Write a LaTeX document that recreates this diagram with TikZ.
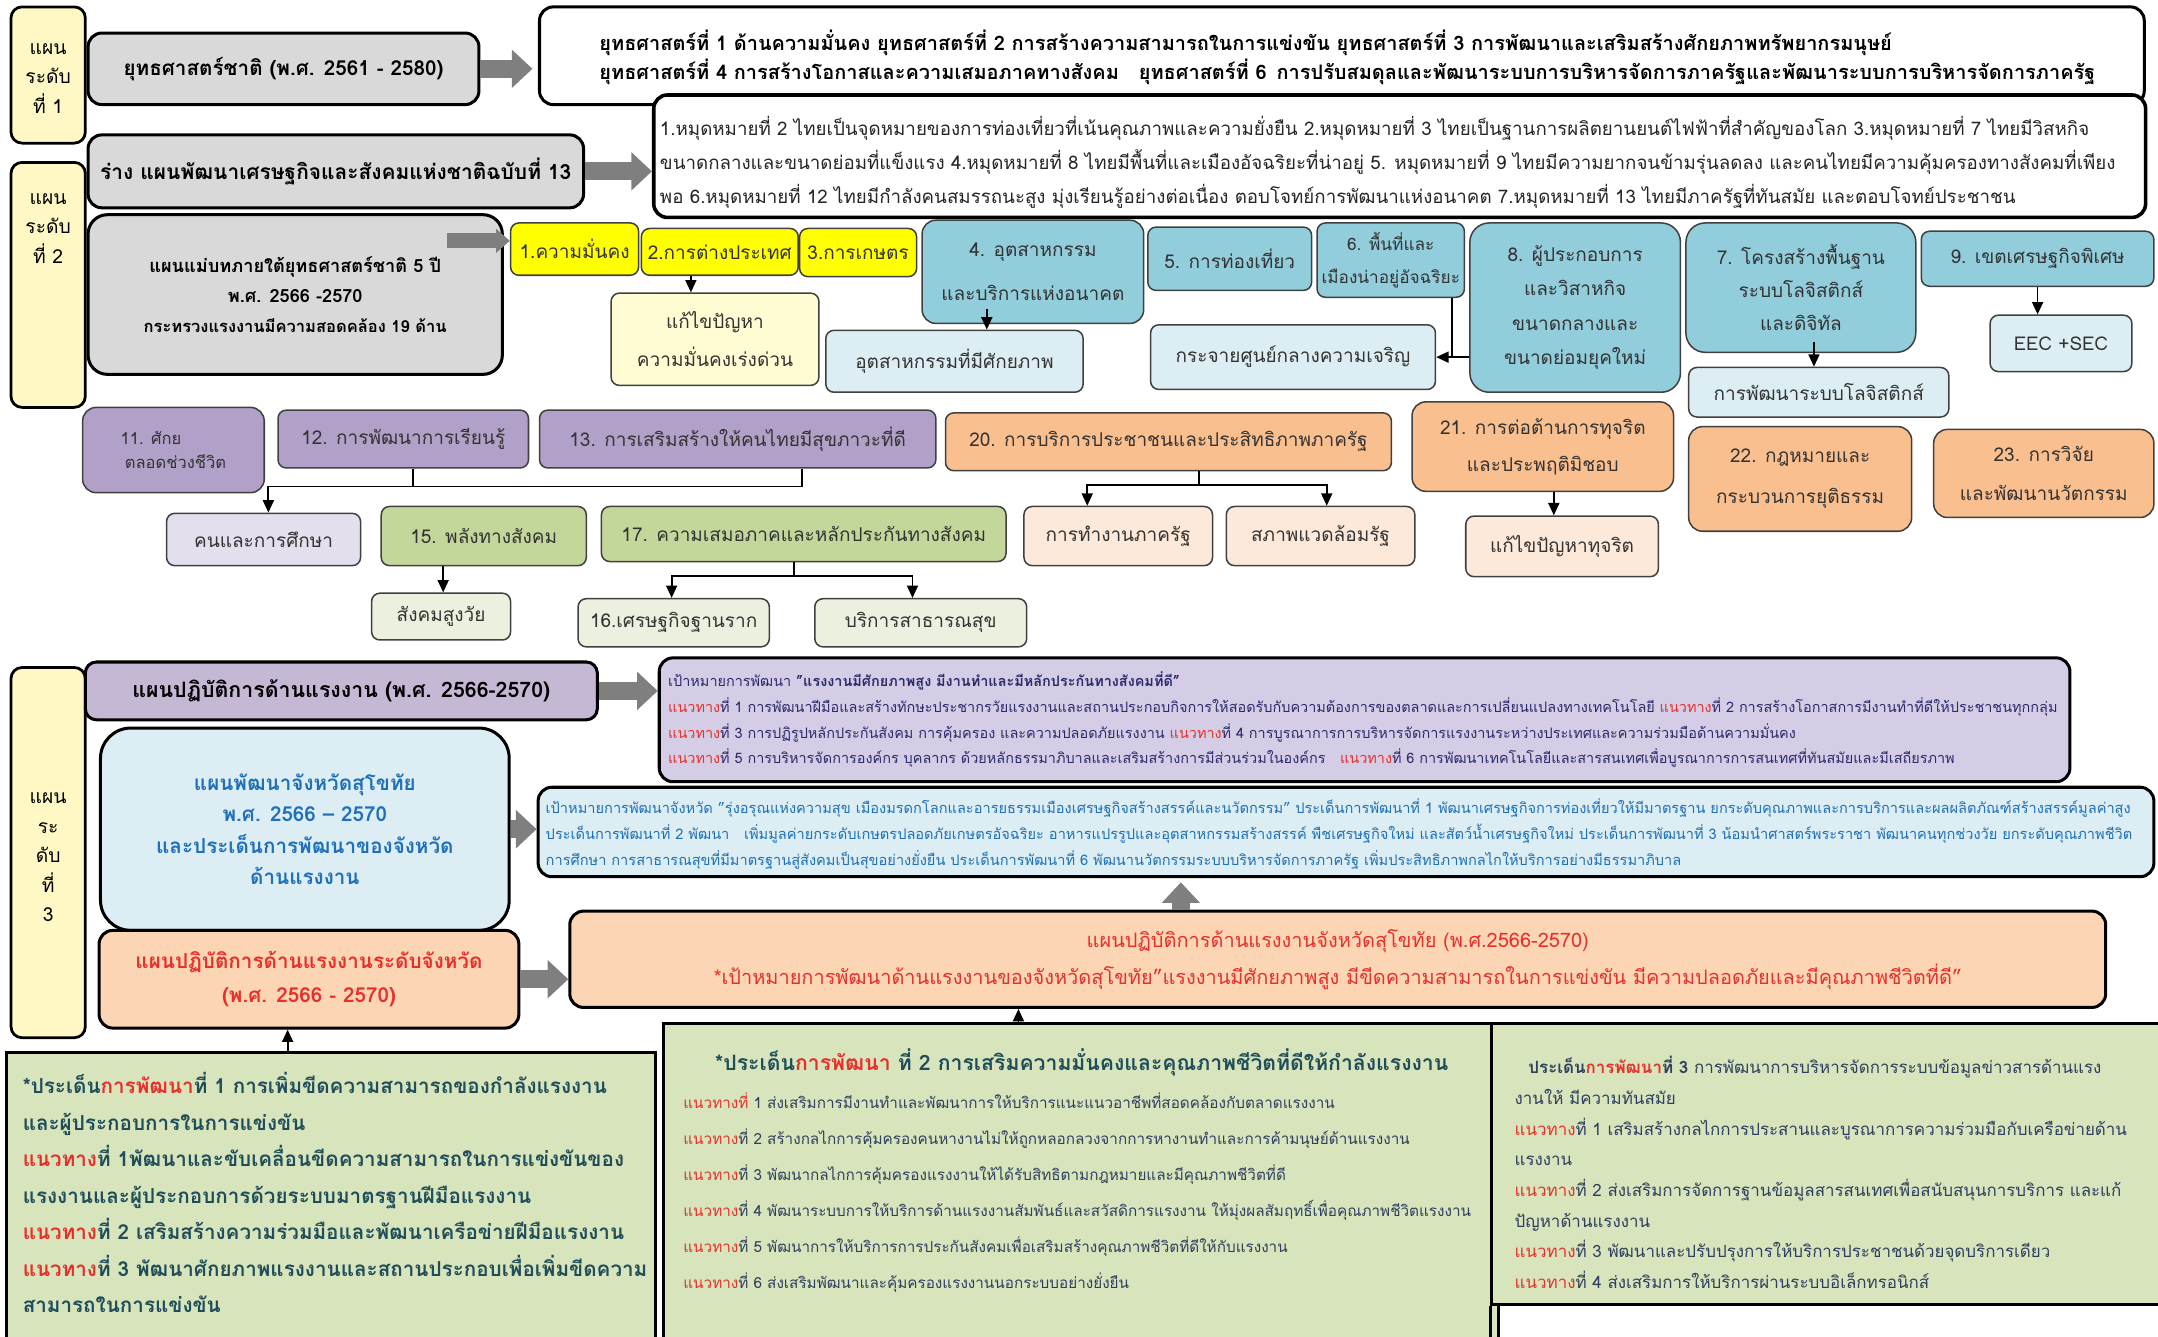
\documentclass[tikz,border=0pt]{standalone}
\usepackage{fontspec}
\setmainfont{Loma}[Script=Thai]
\usetikzlibrary{arrows.meta}

% colours
\definecolor{lvlyellow}{HTML}{FFF8C4}
\definecolor{boxgray}{HTML}{D9D9D9}
\definecolor{hotyellow}{HTML}{FFFF00}
\definecolor{paleyellow}{HTML}{FFFBD2}
\definecolor{tealblue}{HTML}{92CDDC}
\definecolor{paleblue}{HTML}{DCEEF3}
\definecolor{lilac}{HTML}{B1A0C7}
\definecolor{palelilac}{HTML}{E4DFEC}
\definecolor{leafgreen}{HTML}{C4D79B}
\definecolor{paleleaf}{HTML}{EBF1DE}
\definecolor{apricot}{HTML}{FABF8F}
\definecolor{paleapricot}{HTML}{FDE9D9}
\definecolor{lavender}{HTML}{D5CDE6}
\definecolor{peach}{HTML}{FCD5B4}
\definecolor{sage}{HTML}{D8E4BC}
\definecolor{arrowgray}{HTML}{7F7F7F}
\definecolor{wayred}{HTML}{E8302A}
\definecolor{inknavy}{HTML}{2B2A6B}
\definecolor{inkblue}{HTML}{1F70B8}
\definecolor{inkteal}{HTML}{1F4E5A}
\definecolor{inkslate}{HTML}{2F3F5F}

\newcommand{\waytxt}{\textcolor{wayred}{แนวทาง}}
\newcommand{\devtxt}{\textcolor{wayred}{การพัฒนา}}

\tikzset{
  lvlbox/.style={draw, line width=2pt, fill=lvlyellow, rounded corners=8pt},
  lvltext/.style={align=center, font=\fontsize{14}{21.5}\selectfont},
  bigbox/.style={draw, line width=2.2pt, rounded corners=10pt},
  tile/.style={draw=black!75, line width=1.1pt, rounded corners=6pt, align=center,
    inner sep=1pt, text=black!80, font=\fontsize{13.8}{24}\selectfont},
  fatarrow/.style={arrowgray, line width=13pt, -{Triangle[length=15pt,width=27pt]}},
  link/.style={line width=1.3pt, -{Triangle[length=9pt,width=8pt]}},
  joint/.style={line width=1.3pt},
  issuebox/.style={draw, line width=2.2pt, fill=sage}
}

\begin{document}
\begin{tikzpicture}[x=1pt,y=-1pt]
\useasboundingbox (0,0) rectangle (1568,971);
\clip (0,0) rectangle (1568,971);

% level 1
\node[lvlbox, minimum width=54pt, minimum height=99pt] (lvla) at (35,54.5) {};
\node[lvltext] (lvlatxt) at (35,57) {แผน\\ระดับ\\ที่ 1};
\node[bigbox, fill=boxgray, minimum width=284pt, minimum height=52pt,
  font=\bfseries\fontsize{15}{18}\selectfont] (natstrat) at (206,50)
  {ยุทธศาสตร์ชาติ (พ.ศ. 2561 - 2580)};
\node[bigbox, fill=white, minimum width=1166pt, minimum height=71pt] (strat) at (975,40.5) {};
\node[anchor=west, align=left, font=\bfseries\fontsize{14.5}{21}\selectfont] (strattxt) at (432,41.5)
  {ยุทธศาสตร์ที่ 1 ด้านความมั่นคง ยุทธศาสตร์ที่ 2 การสร้างความสามารถในการแข่งขัน ยุทธศาสตร์ที่ 3 การพัฒนาและเสริมสร้างศักยภาพทรัพยากรมนุษย์\\
   ยุทธศาสตร์ที่ 4 การสร้างโอกาสและความเสมอภาคทางสังคม\quad ยุทธศาสตร์ที่ 6\enspace การปรับสมดุลและพัฒนาระบบการบริหารจัดการภาครัฐและพัฒนาระบบการบริหารจัดการภาครัฐ};
\draw[fatarrow, shorten >=4pt] (natstrat.east) -- (natstrat.east -| strat.west);

% level 2
\node[lvlbox, minimum width=54pt, minimum height=178pt] (lvlb) at (35,207) {};
\node[lvltext] (lvlbtxt) at (35,166) {แผน\\ระดับ\\ที่ 2};
\node[bigbox, fill=white, line width=2.6pt, minimum width=1084pt, minimum height=89pt] (goals) at (1017,113.5) {};
\node[anchor=west, align=left, text=black!85, font=\fontsize{13.6}{25}\selectfont] (goalstxt) at (476,118)
  {1.หมุดหมายที่ 2 ไทยเป็นจุดหมายของการท่องเที่ยวที่เน้นคุณภาพและความยั่งยืน 2.หมุดหมายที่ 3 ไทยเป็นฐานการผลิตยานยนต์ไฟฟ้าที่สำคัญของโลก 3.หมุดหมายที่ 7 ไทยมีวิสหกิจ\\
   ขนาดกลางและขนาดย่อมที่แข็งแรง 4.หมุดหมายที่ 8 ไทยมีพื้นที่และเมืองอัจฉริยะที่น่าอยู่ 5. หมุดหมายที่ 9 ไทยมีความยากจนข้ามรุ่นลดลง และคนไทยมีความคุ้มครองทางสังคมที่เพียง\\
   พอ 6.หมุดหมายที่ 12 ไทยมีกำลังคนสมรรถนะสูง มุ่งเรียนรู้อย่างต่อเนื่อง ตอบโจทย์การพัฒนาแห่งอนาคต 7.หมุดหมายที่ 13 ไทยมีภาครัฐที่ทันสมัย และตอบโจทย์ประชาชน};
\node[bigbox, fill=boxgray, minimum width=360pt, minimum height=53pt,
  font=\bfseries\fontsize{15.2}{20}\selectfont] (draft) at (244,124.5)
  {ร่าง แผนพัฒนาเศรษฐกิจและสังคมแห่งชาติฉบับที่ 13};
\draw[fatarrow] (draft.east) -- (draft.east -| goals.west);
\node[bigbox, fill=boxgray, rounded corners=14pt, minimum width=301pt, minimum height=116pt,
  align=center, font=\bfseries\fontsize{13.2}{21.5}\selectfont] (master) at (214.5,214)
  {แผนแม่บทภายใต้ยุทธศาสตร์ชาติ 5 ปี\\พ.ศ. 2566 -2570\\{\fontsize{12}{21.5}\selectfont กระทรวงแรงงานมีความสอดคล้อง 19 ด้าน}};
\coordinate (masterout) at (325,175);

% 23 fields
\node[tile, fill=hotyellow, minimum width=93pt, minimum height=38pt] (sec1) at (417.5,181) {1.ความมั่นคง};
\node[tile, fill=hotyellow, minimum width=114pt, minimum height=34pt] (sec2) at (523,183) {2.การต่างประเทศ};
\node[tile, fill=hotyellow, minimum width=85pt, minimum height=35pt] (sec3) at (623.5,183.5) {3.การเกษตร};
\draw[fatarrow, line width=11pt, -{Triangle[length=10pt,width=17pt]}] (masterout) -- (masterout -| sec1.west);
\node[tile, fill=paleyellow, minimum width=151pt, minimum height=67pt, font=\fontsize{13.8}{28}\selectfont] (fix1) at (519.5,246.5) {แก้ไขปัญหา\\ความมั่นคงเร่งด่วน};
\node[tile, fill=tealblue, rounded corners=10pt, minimum width=161pt, minimum height=75pt, font=\fontsize{13.8}{32}\selectfont] (ind4) at (750.5,197.5) {4. อุตสาหกรรม\\และบริการแห่งอนาคต};
\node[tile, fill=paleblue, minimum width=187pt, minimum height=45pt] (indpot) at (693.5,262.5) {อุตสาหกรรมที่มีศักยภาพ};
\node[tile, fill=tealblue, minimum width=119pt, minimum height=46pt] (tour5) at (893.5,188) {5. การท่องเที่ยว};
\node[tile, fill=tealblue, minimum width=107pt, minimum height=54pt, font=\fontsize{12.5}{24}\selectfont] (area6) at (1010.5,189) {6. พื้นที่และ\\เมืองน่าอยู่อัจฉริยะ};
\node[tile, fill=paleblue, minimum width=207pt, minimum height=47pt] (decen) at (939.5,259.5) {กระจายศูนย์กลางความเจริญ};
\node[tile, fill=tealblue, rounded corners=14pt, minimum width=153pt, minimum height=123pt, font=\fontsize{13.8}{25}\selectfont] (sme8) at (1144.5,223.5) {8. ผู้ประกอบการ\\และวิสาหกิจ\\ขนาดกลางและ\\ขนาดย่อมยุคใหม่};
\node[tile, fill=tealblue, rounded corners=14pt, minimum width=167pt, minimum height=94pt, font=\fontsize{13.8}{24}\selectfont] (infra7) at (1308.5,209) {7. โครงสร้างพื้นฐาน\\ระบบโลจิสติกส์\\และดิจิทัล};
\node[tile, fill=paleblue, minimum width=189pt, minimum height=36pt] (logis) at (1321.5,285) {การพัฒนาระบบโลจิสติกส์};
\node[tile, fill=tealblue, minimum width=169pt, minimum height=40pt] (eez9) at (1480.5,188) {9. เขตเศรษฐกิจพิเศษ};
\node[tile, fill=paleblue, minimum width=103pt, minimum height=41pt] (eec) at (1497.5,249.5) {EEC +SEC};

\draw[link] ([xshift=-21pt]sec2.south) -- ([xshift=-17.5pt]fix1.north);
\draw[link] ([xshift=-33.5pt,yshift=11pt]ind4.south) -- ([xshift=23.5pt]indpot.north);
\draw[link] ([xshift=44.5pt]area6.south) |- (decen.east);
\draw[joint] (sme8.west |- decen.east) -- ++(-13,0);
\draw[link] ([xshift=9.5pt,yshift=8pt]infra7.south) -- ([xshift=-3.5pt]logis.north);
\draw[link] (eez9.south) -- ([xshift=-17pt]eec.north);

\node[tile, fill=lilac, rounded corners=10pt, minimum width=132pt, minimum height=62pt, align=left, font=\fontsize{12}{18}\selectfont] (life11) at (126,327) {11. ศักย\\\hspace*{3pt}ตลอดช่วงชีวิต};
\node[tile, fill=lilac, minimum width=182pt, minimum height=42pt] (learn12) at (293,319) {12. การพัฒนาการเรียนรู้};
\node[tile, fill=lilac, minimum width=288pt, minimum height=42pt] (health13) at (536,319) {13. การเสริมสร้างให้คนไทยมีสุขภาวะที่ดี};
\node[tile, fill=palelilac, minimum width=141pt, minimum height=38pt] (people) at (191.5,392) {คนและการศึกษา};
\node[tile, fill=leafgreen, minimum width=149pt, minimum height=43pt] (social15) at (351.5,389.5) {15. พลังทางสังคม};
\node[tile, fill=leafgreen, minimum width=294pt, minimum height=40pt] (equal17) at (584,388) {17. ความเสมอภาคและหลักประกันทางสังคม};
\node[tile, fill=paleleaf, minimum width=101pt, minimum height=34pt] (aged) at (320.5,448) {สังคมสูงวัย};
\node[tile, fill=paleleaf, minimum width=139pt, minimum height=35pt] (econ16) at (489.5,452.5) {16.เศรษฐกิจฐานราก};
\node[tile, fill=paleleaf, minimum width=154pt, minimum height=35pt] (pubhealth) at (669,452.5) {บริการสาธารณสุข};
\node[tile, fill=apricot, minimum width=324pt, minimum height=42pt] (service20) at (849,321) {20. การบริการประชาชนและประสิทธิภาพภาครัฐ};
\node[tile, fill=paleapricot, minimum width=137pt, minimum height=43pt] (govwork) at (812.5,389.5) {การทำงานภาครัฐ};
\node[tile, fill=paleapricot, minimum width=137pt, minimum height=43pt] (govenv) at (959.5,389.5) {สภาพแวดล้อมรัฐ};
\node[tile, fill=apricot, rounded corners=10pt, minimum width=190pt, minimum height=65pt, font=\fontsize{13.8}{27}\selectfont] (corrupt21) at (1121,324.5) {21. การต่อต้านการทุจริต\\และประพฤติมิชอบ};
\node[tile, fill=paleapricot, minimum width=140pt, minimum height=44pt] (fixcorrupt) at (1135,397) {แก้ไขปัญหาทุจริต};
\node[tile, fill=apricot, rounded corners=10pt, minimum width=162pt, minimum height=76pt, font=\fontsize{13.8}{30}\selectfont] (law22) at (1308,348) {22. กฎหมายและ\\กระบวนการยุติธรรม};
\node[tile, fill=apricot, rounded corners=10pt, minimum width=160pt, minimum height=64pt, font=\fontsize{13.8}{28}\selectfont] (innov23) at (1485,344) {23. การวิจัย\\และพัฒนานวัตกรรม};

\draw[joint] ([xshift=7pt]learn12.south) -- ++(0,13);
\draw[link] ([xshift=47pt]health13.south) -- ++(0,13) -| ([xshift=3.5pt]people.north);
\draw[link] ([xshift=-29.5pt]social15.south) -- ([xshift=1.5pt]aged.north);
\draw[link] ([xshift=-7pt]equal17.south) -- ++(0,10) -| ([xshift=-1.5pt]econ16.north);
\draw[link] ([xshift=-7pt]equal17.south) ++(0,10) -| ([xshift=-6pt]pubhealth.north);
\draw[link] ([xshift=22pt]service20.south) -- ++(0,10) -| ([xshift=-22.5pt]govwork.north);
\draw[link] ([xshift=22pt]service20.south) ++(0,10) -| ([xshift=4.5pt]govenv.north);
\draw[link] ([xshift=8pt]corrupt21.south) -- ([xshift=-6pt]fixcorrupt.north);

% level 3
\node[lvlbox, minimum width=54pt, minimum height=269pt] (lvlc) at (35,619.5) {};
\node[lvltext] (lvlctxt) at (35,623) {แผน\\ระ\\ดับ\\ที่\\3};
\node[bigbox, fill=lilac!75, rounded corners=8pt, minimum width=372pt, minimum height=42pt,
  font=\bfseries\fontsize{15.5}{18}\selectfont] (labour) at (248,502) {แผนปฏิบัติการด้านแรงงาน (พ.ศ. 2566-2570)};
\node[bigbox, fill=lavender, minimum width=1025pt, minimum height=90pt] (labourgoal) at (991.5,523) {};
\node[anchor=west, align=left, text=inknavy, font=\fontsize{10.5}{18.7}\selectfont] (labourgoaltxt) at (482,523)
  {เป้าหมายการพัฒนา \textbf{"แรงงานมีศักยภาพสูง มีงานทำและมีหลักประกันทางสังคมที่ดี"}\\
   \waytxt{}ที่ 1 การพัฒนาฝีมือและสร้างทักษะประชากรวัยแรงงานและสถานประกอบกิจการให้สอดรับกับความต้องการของตลาดและการเปลี่ยนแปลงทางเทคโนโลยี \waytxt{}ที่ 2 การสร้างโอกาสการมีงานทำที่ดีให้ประชาชนทุกกลุ่ม\\
   \waytxt{}ที่ 3 การปฏิรูปหลักประกันสังคม การคุ้มครอง และความปลอดภัยแรงงาน \waytxt{}ที่ 4 การบูรณาการการบริหารจัดการแรงงานระหว่างประเทศและความร่วมมือด้านความมั่นคง\\
   \waytxt{}ที่ 5 การบริหารจัดการองค์กร บุคลากร ด้วยหลักธรรมาภิบาลและเสริมสร้างการมีส่วนร่วมในองค์กร\quad \waytxt{}ที่ 6 การพัฒนาเทคโนโลยีและสารสนเทศเพื่อบูรณาการการสนเทศที่ทันสมัยและมีเสถียรภาพ};
\draw[fatarrow] (labour.east) -- (labour.east -| labourgoal.west);

\node[bigbox, fill=paleblue, rounded corners=22pt, minimum width=297pt, minimum height=147pt,
  align=center, text=inkblue, font=\bfseries\fontsize{15}{23}\selectfont] (sukhoplan) at (221.5,602.5)
  {แผนพัฒนาจังหวัดสุโขทัย\\พ.ศ. 2566 – 2570\\และประเด็นการพัฒนาของจังหวัด\\ด้านแรงงาน};
\node[bigbox, fill=paleblue, minimum width=1174pt, minimum height=65pt] (sukhogoal) at (978,604.5) {};
\node[anchor=west, align=left, text=inkblue, font=\fontsize{10.6}{19}\selectfont] (sukhogoaltxt) at (393,606)
  {เป้าหมายการพัฒนาจังหวัด "รุ่งอรุณแห่งความสุข เมืองมรดกโลกและอารยธรรมเมืองเศรษฐกิจสร้างสรรค์และนวัตกรรม" ประเด็นการพัฒนาที่ 1 พัฒนาเศรษฐกิจการท่องเที่ยวให้มีมาตรฐาน ยกระดับคุณภาพและการบริการและผลผลิตภัณฑ์สร้างสรรค์มูลค่าสูง\\
   ประเด็นการพัฒนาที่ 2 พัฒนา\quad เพิ่มมูลค่ายกระดับเกษตรปลอดภัยเกษตรอัจฉริยะ อาหารแปรรูปและอุตสาหกรรมสร้างสรรค์ พืชเศรษฐกิจใหม่ และสัตว์น้ำเศรษฐกิจใหม่ ประเด็นการพัฒนาที่ 3 น้อมนำศาสตร์พระราชา พัฒนาคนทุกช่วงวัย ยกระดับคุณภาพชีวิต\\
   การศึกษา การสาธารณสุขที่มีมาตรฐานสู่สังคมเป็นสุขอย่างยั่งยืน ประเด็นการพัฒนาที่ 6 พัฒนานวัตกรรมระบบบริหารจัดการภาครัฐ เพิ่มประสิทธิภาพกลไกให้บริการอย่างมีธรรมาภิบาล};
\draw[fatarrow] (sukhoplan.east) -- (sukhoplan.east -| sukhogoal.west);

\node[bigbox, fill=peach, minimum width=305pt, minimum height=71pt, align=center,
  text=wayred, font=\bfseries\fontsize{15}{25}\selectfont] (provorange) at (224.5,711.5)
  {แผนปฏิบัติการด้านแรงงานระดับจังหวัด\\(พ.ศ. 2566 - 2570)};
\node[bigbox, fill=peach, minimum width=1116pt, minimum height=70pt, align=center,
  text=wayred, font=\fontsize{14.5}{27}\selectfont] (provgoal) at (972,697)
  {แผนปฏิบัติการด้านแรงงานจังหวัดสุโขทัย (พ.ศ.2566-2570)\\
   *เป้าหมายการพัฒนาด้านแรงงานของจังหวัดสุโขทัย"แรงงานมีศักยภาพสูง มีขีดความสามารถในการแข่งขัน มีความปลอดภัยและมีคุณภาพชีวิตที่ดี"};
\draw[fatarrow] (provorange.east) -- (provorange.east -| provgoal.west);
\draw[fatarrow, shorten >=3pt] ([xshift=-114pt]provgoal.north) -- ([xshift=-120pt]sukhogoal.south);

% development issues
\node[issuebox, minimum width=471pt, minimum height=225pt] (issue1) at (240.5,877.5) {};
\node[anchor=west, align=left, text=inkteal, font=\bfseries\fontsize{15}{26.5}\selectfont] (issue1txt) at (13,866.5)
  {*ประเด็น\devtxt{}ที่ 1 การเพิ่มขีดความสามารถของกำลังแรงงาน\\
   และผู้ประกอบการในการแข่งขัน\\
   \waytxt{}ที่ 1พัฒนาและขับเคลื่อนขีดความสามารถในการแข่งขันของ\\
   แรงงานและผู้ประกอบการด้วยระบบมาตรฐานฝีมือแรงงาน\\
   \waytxt{}ที่ 2 เสริมสร้างความร่วมมือและพัฒนาเครือข่ายฝีมือแรงงาน\\
   \waytxt{}ที่ 3 พัฒนาศักยภาพแรงงานและสถานประกอบเพื่อเพิ่มขีดความ\\
   สามารถในการแข่งขัน};
\node[issuebox, minimum width=607pt, minimum height=246pt] (issue2) at (785.5,867) {};
\node[text=inkteal, font=\bfseries\fontsize{15.4}{18}\selectfont] (issue2head) at (786,772)
  {*ประเด็น\devtxt{} ที่ 2 การเสริมความมั่นคงและคุณภาพชีวิตที่ดีให้กำลังแรงงาน};
\node[anchor=west, align=left, text=inkslate, font=\fontsize{11.1}{26.2}\selectfont] (issue2txt) at (493,866.5)
  {\textcolor{wayred}{แนวทางที่} 1 ส่งเสริมการมีงานทำและพัฒนาการให้บริการแนะแนวอาชีพที่สอดคล้องกับตลาดแรงงาน\\
   \waytxt{}ที่ 2 สร้างกลไกการคุ้มครองคนหางานไม่ให้ถูกหลอกลวงจากการหางานทำและการค้ามนุษย์ด้านแรงงาน\\
   \waytxt{}ที่ 3 พัฒนากลไกการคุ้มครองแรงงานให้ได้รับสิทธิตามกฎหมายและมีคุณภาพชีวิตที่ดี\\
   \waytxt{}ที่ 4 พัฒนาระบบการให้บริการด้านแรงงานสัมพันธ์และสวัสดิการแรงงาน ให้มุ่งผลสัมฤทธิ์เพื่อคุณภาพชีวิตแรงงาน\\
   \waytxt{}ที่ 5 พัฒนาการให้บริการการประกันสังคมเพื่อเสริมสร้างคุณภาพชีวิตที่ดีให้กับแรงงาน\\
   \waytxt{}ที่ 6 ส่งเสริมพัฒนาและคุ้มครองแรงงานนอกระบบอย่างยั่งยืน};
\node[issuebox, minimum width=488pt, minimum height=204pt] (issue3) at (1328,846) {};
\draw[line width=2.2pt] (issue3.south west) -- ++(0,30);
\node[anchor=west, align=left, text=inkslate, font=\fontsize{12.3}{22.3}\selectfont] (issue3txt) at (1097,852)
  {\hspace*{10pt}\textbf{ประเด็น\devtxt{}ที่ 3} การพัฒนาการบริหารจัดการระบบข้อมูลข่าวสารด้านแรง\\
   งานให้ มีความทันสมัย\\
   \waytxt{}ที่ 1 เสริมสร้างกลไกการประสานและบูรณาการความร่วมมือกับเครือข่ายด้าน\\
   แรงงาน\\
   \waytxt{}ที่ 2 ส่งเสริมการจัดการฐานข้อมูลสารสนเทศเพื่อสนับสนุนการบริการ และแก้\\
   ปัญหาด้านแรงงาน\\
   \waytxt{}ที่ 3 พัฒนาและปรับปรุงการให้บริการประชาชนด้วยจุดบริการเดียว\\
   \waytxt{}ที่ 4 ส่งเสริมการให้บริการผ่านระบบอิเล็กทรอนิกส์};
\draw[link] ([xshift=-31.5pt]issue1.north) -- ([xshift=-15.5pt]provorange.south);
\draw[link] ([xshift=-45.5pt]issue2.north) -- ([xshift=-232pt]provgoal.south);
\end{tikzpicture}
\end{document}
